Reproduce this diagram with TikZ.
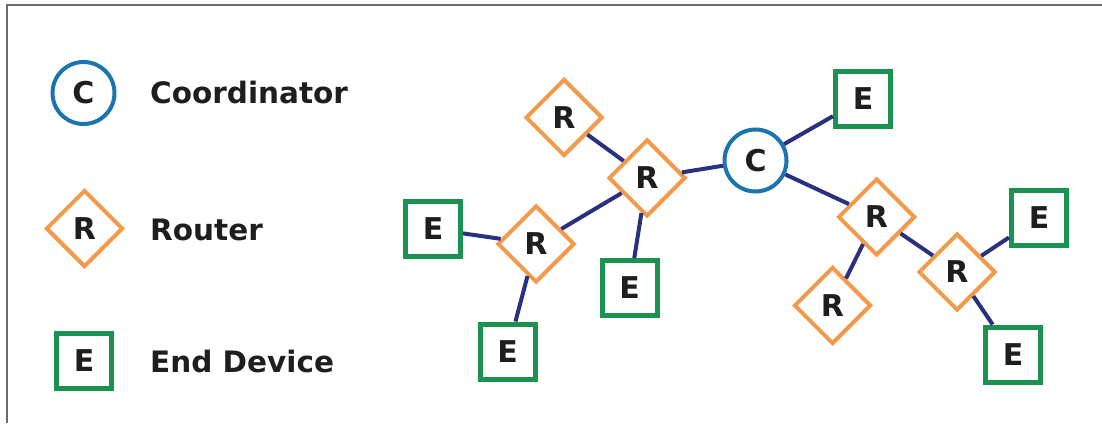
\documentclass[tikz,border=0pt]{standalone}
\usepackage{fontspec}
\setmainfont{DejaVu Sans}
\usetikzlibrary{shapes.geometric}

\definecolor{coordblue}{HTML}{1A74AE}
\definecolor{routerorange}{HTML}{F2994A}
\definecolor{endgreen}{HTML}{1B9152}
\definecolor{linknavy}{HTML}{28307F}
\definecolor{inkdark}{HTML}{1E1E1E}
\definecolor{framegray}{HTML}{6A6A6A}

\tikzset{
  nodeletter/.style={font=\fontsize{30}{32}\selectfont\bfseries, text=inkdark},
  coordnode/.style={circle, draw=coordblue, line width=4pt, fill=white,
    minimum size=62pt, inner sep=0pt, nodeletter},
  router/.style={diamond, draw=routerorange, line width=4pt, fill=white,
    minimum width=77pt, minimum height=77pt, inner sep=0pt, nodeletter},
  enddev/.style={rectangle, draw=endgreen, line width=5pt, fill=white,
    minimum size=55pt, inner sep=0pt, nodeletter},
  linkline/.style={draw=linknavy, line width=4pt},
  legendtext/.style={anchor=base west, inner sep=0pt,
    font=\fontsize{29.5}{32}\selectfont\bfseries, text=inkdark},
  frameline/.style={draw=framegray, line width=1.3pt}
}

\begin{document}
\begin{tikzpicture}[x=1pt, y=-1pt]
  \useasboundingbox (0,0) rectangle (1102,423);

  % frame on the top and left edges
  \draw[frameline] (7,423) -- (7,5) -- (1102,5);

  % legend
  \node[coordnode] (legc) at (83.5,93) {C};
  \node[legendtext] (legctext) at (150,103) {Coordinator};
  \node[router] (legr) at (84.5,228.5) {R};
  \node[legendtext] (legrtext) at (150,240) {Router};
  \node[enddev] (lege) at (84,360.5) {E};
  \node[legendtext] (legetext) at (150,372) {End Device};

  % network nodes
  \node[coordnode] (c) at (755.5,160.5) {C};
  \node[router] (rtop) at (564,117.5) {R};
  \node[router] (rhub) at (647,178) {R};
  \node[router] (rleft) at (536,244) {R};
  \node[enddev] (eleft) at (433,229) {E};
  \node[enddev] (ehub) at (629.5,288) {E};
  \node[enddev] (ebottom) at (507.5,351.5) {E};
  \node[enddev] (etop) at (863,99) {E};
  \node[router] (rmid) at (876.5,217) {R};
  \node[router] (rlow) at (832.5,305.5) {R};
  \node[router] (rright) at (957,272) {R};
  \node[enddev] (eright) at (1039,217.5) {E};
  \node[enddev] (erightlow) at (1013,354.5) {E};

  % links
  \draw[linkline] (rtop) -- (rhub);
  \draw[linkline] (rhub) -- (c);
  \draw[linkline] (rhub) -- (rleft);
  \draw[linkline] (rhub) -- (ehub);
  \draw[linkline] (rleft) -- (eleft);
  \draw[linkline] (rleft) -- (ebottom);
  \draw[linkline] (c) -- (etop);
  \draw[linkline] (c) -- (rmid);
  \draw[linkline] (rmid) -- (rlow);
  \draw[linkline] (rmid) -- (rright);
  \draw[linkline] (rright) -- (eright);
  \draw[linkline] (rright) -- (erightlow);
\end{tikzpicture}
\end{document}
